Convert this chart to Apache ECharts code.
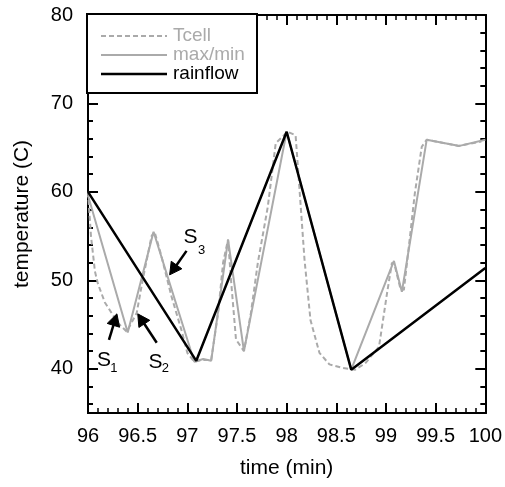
<!DOCTYPE html>
<html>
<head>
<meta charset="utf-8">
<script src="https://cdn.jsdelivr.net/npm/echarts@6/dist/echarts.min.js"></script>
<style>
  html, body { margin: 0; padding: 0; background: #fff; }
  #chart { width: 505px; height: 487px; }
</style>
</head>
<body>
<div id="chart"></div>
<script>
// Cell temperature trace (min, deg C)
var tcellTime = [96, 96.03, 96.07, 96.1, 96.17, 96.3, 96.39, 96.49, 96.55, 96.64, 96.67, 96.74, 96.84, 96.94, 97.0, 97.07, 97.15, 97.24, 97.31, 97.36, 97.41, 97.44, 97.49, 97.54, 97.57, 97.64, 97.71, 97.81, 97.89, 98.01, 98.09, 98.13, 98.18, 98.24, 98.33, 98.43, 98.56, 98.69, 98.79, 98.93, 99.01, 99.06, 99.09, 99.14, 99.18, 99.23, 99.29, 99.36, 99.41, 99.73, 99.96];
var tcellTemp = [60, 55, 51, 49.6, 47.5, 45.2, 44.2, 46.3, 50, 55, 55.5, 52.7, 48.2, 44.4, 41.8, 40.8, 41.0, 41.0, 46.3, 52, 54.6, 50, 43.3, 42.5, 42.0, 46.3, 52, 58.3, 65.5, 66.8, 66.4, 60.2, 52.3, 45.5, 41.8, 40.5, 40.1, 39.9, 40.6, 42.5, 48.5, 52, 51.6, 49.3, 48.9, 53.8, 59.8, 65.1, 65.9, 65.2, 65.7];

// Turning points (local max / min)
var maxMinTime = [96, 96.40, 96.66, 97.07, 97.16, 97.24, 97.41, 97.57, 98.0, 98.65, 99.08, 99.16, 99.41, 99.74, 100];
var maxMinTemp = [59.6, 44.1, 55.5, 40.8, 41.1, 40.9, 54.6, 42.0, 66.8, 39.9, 52.2, 48.7, 65.9, 65.2, 65.9];

// Rainflow-reduced reversals
var rainflowTime = [96, 97.09, 98.0, 98.65, 100];
var rainflowTemp = [60, 40.9, 66.8, 39.9, 51.4];

// Axis ticks
var yMajorTicks = [40, 50, 60, 70, 80];
var yMinorTicks = [36, 38, 42, 44, 46, 48, 52, 54, 56, 58, 62, 64, 66, 68, 72, 74, 76, 78];

// Sub-cycle annotations (data units): arrow tail, arrow tip, label "S" and its subscript
var cycleNames = ['1', '2', '3'];
var arrowTail = [[96.211, 43.28], [96.692, 42.94], [96.992, 53.33]];
var arrowTip = [[96.291, 46.21], [96.501, 46.21], [96.822, 50.62]];
var labelPos = [[96.16, 40.96], [96.68, 40.79], [97.033, 54.89]];
var subPos = [[96.26, 40.06], [96.78, 40.0], [97.143, 53.33]];

function pairs(xs, ys) {
  return xs.map(function (x, i) { return [x, ys[i]]; });
}

var FONT = '"Liberation Sans", Arial, sans-serif';
var GRAY = '#aaaaaa';

var chart = echarts.init(document.getElementById('chart'), null, { renderer: 'canvas' });

var axisLineStyle = { show: true, lineStyle: { color: '#000', width: 2 } };

function xAxisCfg(pos, showLabels) {
  return {
    type: 'value', position: pos, min: 96, max: 100, interval: 0.5,
    axisLine: axisLineStyle,
    axisTick: { show: true, inside: true, length: 10, lineStyle: { color: '#000', width: 2 } },
    minorTick: { show: true, splitNumber: 5, length: 5, lineStyle: { color: '#000', width: 1.5 } },
    splitLine: { show: false }, minorSplitLine: { show: false },
    axisLabel: { show: showLabels, fontSize: 20, color: '#000', fontFamily: FONT, margin: 13 },
    name: showLabels ? 'time (min)' : '',
    nameLocation: 'middle', nameGap: 45,
    nameTextStyle: { fontSize: 21, color: '#000', fontFamily: FONT }
  };
}

function yAxisCfg(pos, ticks, len, showLabels) {
  return {
    type: 'value', position: pos, min: 35, max: 80,
    axisLine: axisLineStyle,
    axisTick: { show: true, inside: true, length: len, customValues: ticks, lineStyle: { color: '#000', width: 2 } },
    splitLine: { show: false },
    axisLabel: showLabels
      ? { show: true, customValues: yMajorTicks, fontSize: 20, color: '#000', fontFamily: FONT, margin: 15 }
      : { show: false },
    name: showLabels ? 'temperature (C)' : '',
    nameLocation: 'middle', nameGap: 55, nameRotate: 90,
    nameTextStyle: { fontSize: 21, color: '#000', fontFamily: FONT }
  };
}

var markPointData = [];
labelPos.forEach(function (p, i) {
  markPointData.push({ coord: p, label: { formatter: 'S', fontSize: 21 } });
  markPointData.push({ coord: subPos[i], label: { formatter: cycleNames[i], fontSize: 13 } });
});

// Legend drawn as a boxed key in the upper-left corner
var legendRows = [
  { name: 'Tcell', color: GRAY, dash: [5, 3], y: 36 },
  { name: 'max/min', color: GRAY, dash: null, y: 55 },
  { name: 'rainflow', color: '#000', dash: null, y: 74 }
];
var legendGraphics = [{
  type: 'rect', shape: { x: 87, y: 14, width: 170, height: 79 },
  style: { fill: '#fff', stroke: '#000', lineWidth: 2 }, z: 100
}];
legendRows.forEach(function (r) {
  legendGraphics.push({
    type: 'line', shape: { x1: 101, y1: r.y, x2: 167, y2: r.y },
    style: { stroke: r.color, lineWidth: r.color === '#000' ? 2.5 : 2, lineDash: r.dash }, z: 101
  });
  legendGraphics.push({
    type: 'text', x: 173, y: r.y,
    style: { text: r.name, fill: r.color, font: '19px ' + FONT, textVerticalAlign: 'middle' }, z: 101
  });
});

chart.setOption({
  animation: false,
  backgroundColor: '#fff',
  grid: { left: 88, right: 18, top: 15, bottom: 74, containLabel: false },
  xAxis: [xAxisCfg('bottom', true), xAxisCfg('top', false)],
  yAxis: [
    yAxisCfg('left', yMajorTicks, 10, true),
    yAxisCfg('left', yMinorTicks, 5, false),
    yAxisCfg('right', yMajorTicks, 10, false),
    yAxisCfg('right', yMinorTicks, 5, false)
  ],
  series: [
    {
      name: 'Tcell', type: 'line', data: pairs(tcellTime, tcellTemp),
      showSymbol: false, symbol: 'none',
      lineStyle: { color: GRAY, width: 2, type: [5, 3] }, z: 2
    },
    {
      name: 'max/min', type: 'line', data: pairs(maxMinTime, maxMinTemp),
      showSymbol: false, symbol: 'none',
      lineStyle: { color: GRAY, width: 2 }, z: 3
    },
    {
      name: 'rainflow', type: 'line', data: pairs(rainflowTime, rainflowTemp),
      showSymbol: false, symbol: 'none',
      lineStyle: { color: '#000', width: 2.5 }, z: 4,
      markPoint: {
        silent: true, animation: false,
        symbol: 'circle', symbolSize: 1,
        itemStyle: { color: 'rgba(0,0,0,0)' },
        label: { show: true, position: 'inside', color: '#000', fontFamily: FONT },
        data: markPointData
      }
    }
  ],
  graphic: legendGraphics
});

// Annotation arrows: shaft plus filled head, placed through the chart's own axes
var HEAD_LEN = 12, HEAD_HALF = 6.5;
var arrowGraphics = [];
arrowTail.forEach(function (t, i) {
  var p0 = chart.convertToPixel({ xAxisIndex: 0, yAxisIndex: 0 }, t);
  var p1 = chart.convertToPixel({ xAxisIndex: 0, yAxisIndex: 0 }, arrowTip[i]);
  var dx = p1[0] - p0[0], dy = p1[1] - p0[1];
  var len = Math.sqrt(dx * dx + dy * dy);
  var ux = dx / len, uy = dy / len;
  var bx = p1[0] - ux * HEAD_LEN, by = p1[1] - uy * HEAD_LEN;
  arrowGraphics.push({
    type: 'line', shape: { x1: p0[0], y1: p0[1], x2: bx + ux * 2, y2: by + uy * 2 },
    style: { stroke: '#000', lineWidth: 2.5 }, z: 90, silent: true
  });
  arrowGraphics.push({
    type: 'polygon',
    shape: { points: [
      [p1[0], p1[1]],
      [bx - uy * HEAD_HALF, by + ux * HEAD_HALF],
      [bx + uy * HEAD_HALF, by - ux * HEAD_HALF]
    ] },
    style: { fill: '#000', stroke: '#000', lineWidth: 1 }, z: 90, silent: true
  });
});
chart.setOption({ graphic: legendGraphics.concat(arrowGraphics) });
</script>
</body>
</html>
